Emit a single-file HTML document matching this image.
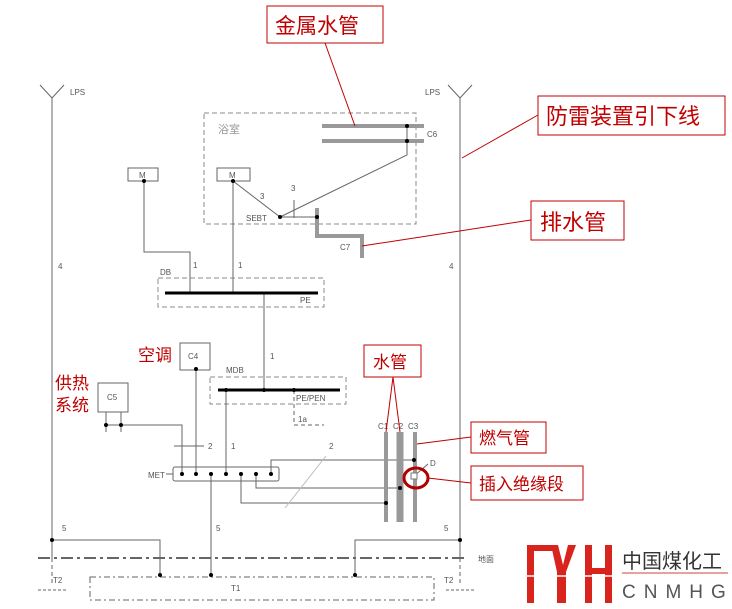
<!DOCTYPE html>
<html><head><meta charset="utf-8"><style>
html,body{margin:0;padding:0;background:#fff;width:732px;height:609px;overflow:hidden}
svg{display:block}
.t{font-family:"Liberation Sans",sans-serif;font-size:8px;fill:#555}
.r{font-family:"Liberation Sans","Noto Sans CJK SC",sans-serif;fill:#c00000}
</style></head><body>
<svg width="732" height="609" viewBox="0 0 732 609" xmlns="http://www.w3.org/2000/svg">
<g fill="none" stroke="#666" stroke-width="1">
<polyline points="40,85 52,98 64,85"/><line x1="52" y1="98" x2="52" y2="558"/>
<polyline points="448,85 460,98 472,85"/><line x1="460" y1="98" x2="460" y2="558"/>
<rect x="204" y="113" width="212" height="111" stroke-dasharray="5,3" stroke="#888"/>
<rect x="128" y="168" width="30" height="13"/><rect x="217" y="168" width="33" height="13"/>
<polyline points="144,181 144,252 190,252 190,294"/>
<line x1="233" y1="181" x2="233" y2="294"/>
<line x1="233" y1="181" x2="280" y2="217"/>
<polyline points="407,126 407,155 280,217"/>
<line x1="280" y1="217" x2="317" y2="217"/>
<line x1="294" y1="200" x2="294" y2="218"/>
<rect x="158" y="278" width="166" height="29" stroke-dasharray="5,3" stroke="#888"/>
<line x1="264" y1="293" x2="264" y2="390"/>
<rect x="210" y="377" width="136" height="27" stroke-dasharray="5,3" stroke="#888"/>
<polyline points="294,390 294,422" stroke-dasharray="4,3"/>
<line x1="294" y1="425" x2="324" y2="425" stroke-dasharray="4,3"/>
<rect x="180" y="343" width="30" height="27"/>
<line x1="196" y1="369" x2="196" y2="474"/>
<rect x="98" y="383" width="30" height="29"/>
<line x1="106" y1="412" x2="106" y2="432"/><line x1="121" y1="412" x2="121" y2="432"/>
<polyline points="106,425 182,425 182,474"/>
<line x1="174" y1="446" x2="204" y2="446"/>
<line x1="226" y1="390" x2="226" y2="474"/>
<rect x="173" y="467" width="106" height="14" rx="2"/>
<line x1="166" y1="474" x2="173" y2="474"/>
<polyline points="271,474 271,460 414,460"/>
<polyline points="256,474 256,488 400,488"/>
<polyline points="241,474 241,503 386,503"/>
<line x1="211" y1="474" x2="211" y2="575"/>
<line x1="285" y1="508" x2="326" y2="456" stroke="#bbb"/>
<line x1="414" y1="476" x2="428" y2="464"/>
<polyline points="52,540 160,540 160,575"/>
<polyline points="460,540 355,540 355,575"/>
<line x1="38" y1="558" x2="466" y2="558" stroke-width="2" stroke-dasharray="12,4,3,4"/>
<line x1="52" y1="558" x2="52" y2="585" stroke-dasharray="4,3"/>
<line x1="460" y1="558" x2="460" y2="585" stroke-dasharray="4,3"/>
<line x1="38" y1="590" x2="66" y2="590" stroke-dasharray="3,2"/>
<line x1="446" y1="590" x2="474" y2="590" stroke-dasharray="3,2"/>
<rect x="90" y="577" width="344" height="23" stroke-dasharray="6,3,2,3"/>
</g>
<g stroke="#999" fill="none">
<line x1="322" y1="126" x2="424" y2="126" stroke-width="4"/>
<line x1="322" y1="141" x2="424" y2="141" stroke-width="4"/>
<polyline points="317,208 317,236 362,236 362,258" stroke-width="4"/>
<line x1="386" y1="432" x2="386" y2="522" stroke-width="4"/>
<line x1="400" y1="432" x2="400" y2="522" stroke-width="7"/>
<line x1="415" y1="432" x2="415" y2="522" stroke-width="4"/>
</g>
<rect x="411" y="473" width="6" height="6" fill="#fff" stroke="#777"/>
<g stroke="#000" stroke-width="3"><line x1="165" y1="293" x2="318" y2="293"/><line x1="218" y1="390" x2="340" y2="390"/></g>
<g fill="#000">
<circle cx="407" cy="126" r="2"/><circle cx="407" cy="141" r="2"/><circle cx="144" cy="181" r="2"/><circle cx="233" cy="181" r="2"/><circle cx="280" cy="217" r="2"/><circle cx="317" cy="217" r="2"/>
<circle cx="196" cy="369" r="2"/><circle cx="106" cy="425" r="2"/><circle cx="121" cy="425" r="2"/>
<circle cx="226" cy="390" r="2"/><circle cx="264" cy="390" r="2"/><circle cx="294" cy="390" r="2"/>
<circle cx="182" cy="474" r="2"/><circle cx="196" cy="474" r="2"/><circle cx="211" cy="474" r="2"/><circle cx="226" cy="474" r="2"/><circle cx="241" cy="474" r="2"/><circle cx="256" cy="474" r="2"/><circle cx="271" cy="474" r="2"/>
<circle cx="414" cy="460" r="2"/><circle cx="400" cy="488" r="2"/><circle cx="386" cy="503" r="2"/>
<circle cx="52" cy="540" r="2"/><circle cx="460" cy="540" r="2"/><circle cx="160" cy="575" r="2"/><circle cx="211" cy="575" r="2"/><circle cx="355" cy="575" r="2"/>
</g>
<g class="t">
<text x="70" y="95">LPS</text><text x="425" y="95">LPS</text>
<text x="58" y="269">4</text><text x="449" y="269">4</text>
<text x="218" y="133" font-size="11" fill="#999">浴室</text>
<text x="427" y="137">C6</text>
<text x="139" y="178">M</text><text x="229" y="178">M</text>
<text x="260" y="199">3</text><text x="291" y="191">3</text>
<text x="246" y="221">SEBT</text><text x="340" y="250">C7</text>
<text x="193" y="268">1</text><text x="238" y="268">1</text>
<text x="160" y="275">DB</text><text x="300" y="303">PE</text>
<text x="270" y="359">1</text><text x="226" y="373">MDB</text><text x="296" y="401">PE/PEN</text>
<text x="298" y="422">1a</text>
<text x="188" y="359">C4</text><text x="107" y="400">C5</text>
<text x="208" y="449">2</text><text x="231" y="449">1</text><text x="329" y="449">2</text>
<text x="148" y="478">MET</text>
<text x="378" y="429">C1</text><text x="393" y="429">C2</text><text x="408" y="429">C3</text>
<text x="430" y="466">D</text>
<text x="62" y="531">5</text><text x="216" y="531">5</text><text x="444" y="531">5</text>
<text x="478" y="562">地面</text>
<text x="231" y="591">T1</text><text x="53" y="583">T2</text><text x="444" y="583">T2</text>
</g>
<ellipse cx="416" cy="478" rx="12" ry="10" fill="none" stroke="#b00000" stroke-width="3"/>
<g stroke="#c00000" fill="#fff" stroke-width="1">
<line x1="325" y1="43" x2="355" y2="126"/>
<line x1="538" y1="115" x2="462" y2="158"/>
<line x1="531" y1="220" x2="362" y2="246"/>
<line x1="393" y1="377" x2="386" y2="432"/><line x1="393" y1="377" x2="400" y2="432"/>
<line x1="471" y1="437" x2="417" y2="444"/>
<line x1="471" y1="483" x2="428" y2="478"/>
<rect x="267" y="6" width="116" height="37"/>
<rect x="538" y="96" width="187" height="39"/>
<rect x="531" y="201" width="93" height="39"/>
<rect x="364" y="345" width="57" height="32"/>
<rect x="471" y="422" width="75" height="31"/>
<rect x="471" y="466" width="112" height="34"/>
</g>
<g class="r">
<text x="275" y="33" font-size="21">金属水管</text>
<text x="546" y="124" font-size="22">防雷装置引下线</text>
<text x="540" y="230" font-size="22">排水管</text>
<text x="373" y="368" font-size="17">水管</text>
<text x="479" y="444" font-size="17">燃气管</text>
<text x="479" y="490" font-size="17">插入绝缘段</text>
<text x="138" y="361" font-size="17">空调</text>
<text x="55" y="389" font-size="17">供热</text>
<text x="55" y="411" font-size="17">系统</text>
</g>
<g fill="#d9231d">
<rect x="527" y="545" width="30" height="6"/>
<rect x="527" y="545" width="7" height="58"/>
<polygon points="551,545 558,545 563,565 568,545 576,545 566,572 566,603 557,603 557,572"/>
<rect x="585" y="545" width="7" height="58"/>
<rect x="605" y="545" width="7" height="58"/>
<rect x="585" y="568" width="27" height="6"/>
</g>
<line x1="522" y1="576" x2="614" y2="576" stroke="#fff" stroke-width="1.5"/>
<line x1="622" y1="573" x2="728" y2="573" stroke="#c44" stroke-width="1"/>
<text x="622" y="568" font-family="'Liberation Sans','Noto Sans CJK SC',sans-serif" font-size="20" fill="#333">中国煤化工</text>
<text x="622" y="598" font-family="'Liberation Sans',sans-serif" font-size="19" fill="#555" letter-spacing="8">CNMHG</text>
</svg>
</body></html>
